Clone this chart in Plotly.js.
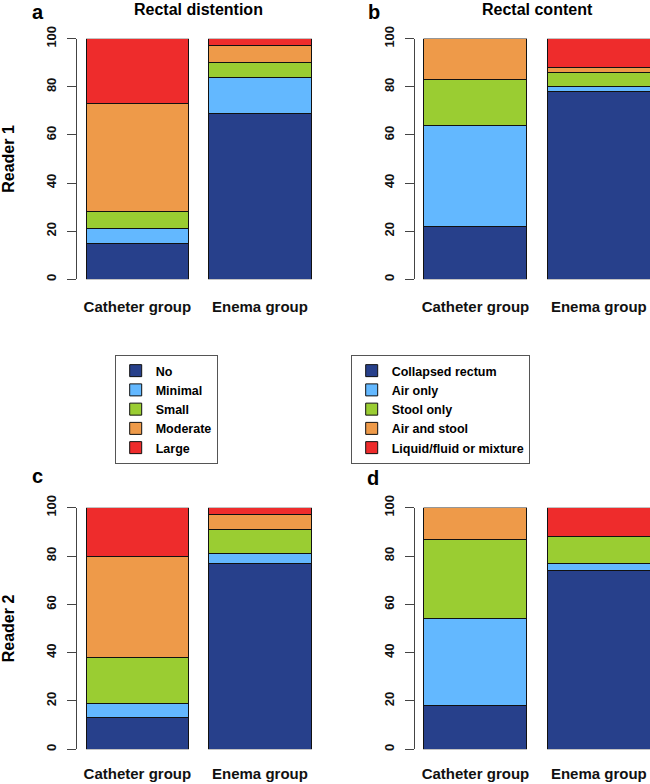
<!DOCTYPE html>
<html>
<head>
<meta charset="utf-8">
<script src="https://cdn.plot.ly/plotly-3.0.1.min.js"></script>
<style>html,body{margin:0;padding:0;background:#fff;}#chart{width:650px;height:784px;}</style>
</head>
<body>
<div id="chart"></div>
<script>
const groups = ['Catheter group', 'Enema group'];
const distentionLevels = ['No', 'Minimal', 'Small', 'Moderate', 'Large'];
const contentLevels = ['Collapsed rectum', 'Air only', 'Stool only', 'Air and stool', 'Liquid/fluid or mixture'];
const levelColors = ['#27408B', '#63B8FF', '#9ACD32', '#EE9A49', '#EE2C2C'];

// percentages per level, in level order
const reader1DistentionCatheter = [15, 6, 7, 45, 27];
const reader1DistentionEnema    = [69, 15, 6, 7, 3];
const reader1ContentCatheter    = [22, 42, 19, 17, 0];
const reader1ContentEnema       = [78, 2, 6, 2, 12];
const reader2DistentionCatheter = [13, 6, 19, 42, 20];
const reader2DistentionEnema    = [77, 4, 10, 6, 3];
const reader2ContentCatheter    = [18, 36, 33, 13, 0];
const reader2ContentEnema       = [74, 3, 11, 0, 12];

const yTicks = [0, 20, 40, 60, 80, 100];
const panelTitles = ['Rectal distention', 'Rectal content'];
const rowTitles = ['Reader 1', 'Reader 2'];
const panelLetters = ['a', 'b', 'c', 'd'];

const FONT = 'Liberation Sans, Arial, sans-serif';

const panels = [
  {levels: distentionLevels, cath: reader1DistentionCatheter, enema: reader1DistentionEnema, ax: '', legend: 'legend', show: true},
  {levels: contentLevels, cath: reader1ContentCatheter, enema: reader1ContentEnema, ax: '2', legend: 'legend2', show: true},
  {levels: distentionLevels, cath: reader2DistentionCatheter, enema: reader2DistentionEnema, ax: '3', legend: 'legend', show: false},
  {levels: contentLevels, cath: reader2ContentCatheter, enema: reader2ContentEnema, ax: '4', legend: 'legend2', show: false}
];

const traces = [];
panels.forEach(p => {
  p.levels.forEach((lvl, i) => {
    traces.push({
      type: 'bar',
      name: lvl,
      x: groups,
      y: [p.cath[i], p.enema[i]],
      xaxis: 'x' + p.ax,
      yaxis: 'y' + p.ax,
      marker: {color: levelColors[i], line: {color: '#111', width: 1}},
      showlegend: p.show,
      legend: p.legend,
      hoverinfo: 'skip'
    });
  });
});

const W = 650, H = 784;
const fx = px => px / W;
const fy = py => 1 - py / H;

function xAxis(domain, range, standoff) {
  return {
    domain: domain, range: range, showline: false, showgrid: false, zeroline: false,
    ticks: '', ticklabelstandoff: standoff,
    tickfont: {family: FONT, size: 15, color: '#111', weight: 'bold'},
    fixedrange: true
  };
}
function yAxis(domain, anchor, title) {
  const a = {
    domain: domain, anchor: anchor, range: [0, 100], showline: true, linecolor: '#444', linewidth: 1,
    ticks: 'outside', ticklen: 9, tickcolor: '#444', tickwidth: 1,
    tickvals: yTicks, ticktext: yTicks.map(String), tickangle: -90,
    ticklabelstandoff: 6,
    showgrid: false, zeroline: false,
    tickfont: {family: FONT, size: 13, color: '#111', weight: 'bold'},
    fixedrange: true
  };
  if (title) a.title = {text: title, standoff: 30, font: {family: FONT, size: 16, color: '#000', weight: 'bold'}};
  return a;
}

const leftX = [fx(77.3), fx(320)];
const rightX = [fx(415), 1];
const leftRange = [-0.49, 1.49];
const rightRange = [-0.49, 1.415];
const topY = [fy(279.3), fy(38.7)];
const botY = [fy(749.3), fy(507.7)];

const titleFont = {family: FONT, size: 16, color: '#000', weight: 'bold'};
const letterFont = {family: FONT, size: 20, color: '#000', weight: 'bold'};
const annotations = [
  {text: panelTitles[0], x: fx(198.5), y: fy(10), xref: 'paper', yref: 'paper', showarrow: false, xanchor: 'center', yanchor: 'middle', font: titleFont},
  {text: panelTitles[1], x: fx(537), y: fy(10), xref: 'paper', yref: 'paper', showarrow: false, xanchor: 'center', yanchor: 'middle', font: titleFont},
  {text: panelLetters[0], x: fx(30), y: fy(12), xref: 'paper', yref: 'paper', showarrow: false, xanchor: 'left', yanchor: 'middle', font: letterFont},
  {text: panelLetters[1], x: fx(366), y: fy(12), xref: 'paper', yref: 'paper', showarrow: false, xanchor: 'left', yanchor: 'middle', font: letterFont},
  {text: panelLetters[2], x: fx(30), y: fy(476), xref: 'paper', yref: 'paper', showarrow: false, xanchor: 'left', yanchor: 'middle', font: letterFont},
  {text: panelLetters[3], x: fx(365), y: fy(478), xref: 'paper', yref: 'paper', showarrow: false, xanchor: 'left', yanchor: 'middle', font: letterFont}
];

const legendStyle = (x) => ({
  x: x, y: fy(355), xref: 'paper', yref: 'paper', xanchor: 'left', yanchor: 'top',
  bordercolor: '#555', borderwidth: 1, bgcolor: '#fff', traceorder: 'normal',
  font: {family: FONT, size: 12.5, color: '#000', weight: 'bold'}
});

const layout = {
  width: W, height: H,
  margin: {l: 0, r: 0, t: 0, b: 0},
  paper_bgcolor: '#fff', plot_bgcolor: '#fff',
  barmode: 'stack', bargap: 0.165,
  showlegend: true,
  font: {family: FONT},
  xaxis: xAxis(leftX, leftRange, 17),
  xaxis2: xAxis(rightX, rightRange, 17),
  xaxis3: xAxis(leftX, leftRange, 14),
  xaxis4: xAxis(rightX, rightRange, 14),
  yaxis: yAxis(topY, 'x', rowTitles[0]),
  yaxis2: yAxis(topY, 'x2', null),
  yaxis3: yAxis(botY, 'x3', rowTitles[1]),
  yaxis4: yAxis(botY, 'x4', null),
  legend: legendStyle(fx(114.7)),
  legend2: legendStyle(fx(350.7)),
  annotations: annotations
};
layout.xaxis.anchor = 'y';
layout.xaxis2.anchor = 'y2';
layout.xaxis3.anchor = 'y3';
layout.xaxis4.anchor = 'y4';

Plotly.newPlot('chart', traces, layout, {displayModeBar: false, staticPlot: true});
</script>
</body>
</html>
